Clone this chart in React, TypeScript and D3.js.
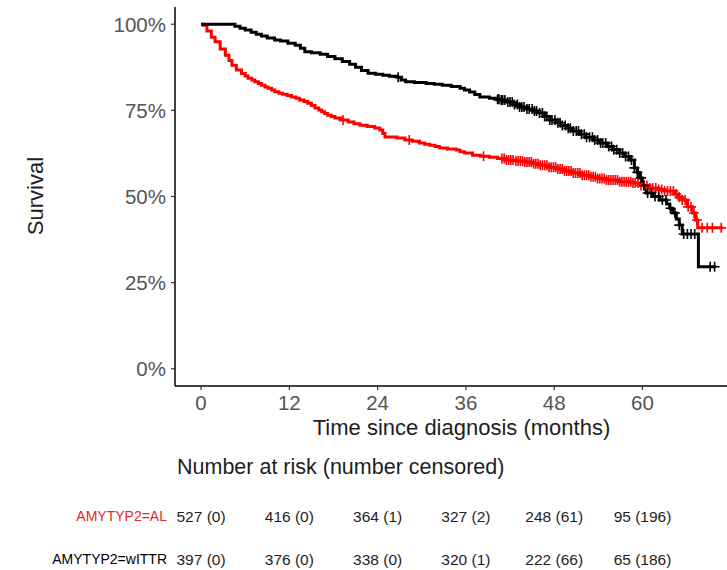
import React from "react";
import * as d3 from "d3";

// ---- Data ----
const alTimes = [0, 0.3, 0.8, 1.4, 1.9, 2.6, 3.3, 3.8, 4.2, 4.8, 5.5, 6.0, 6.4, 6.9, 7.3, 7.8, 8.2, 8.7, 9.1, 9.6, 10.0, 10.6, 11.1, 11.7, 12.3, 12.9, 13.4, 14.0, 14.5, 15.0, 15.5, 16.0, 16.4, 16.8, 17.2, 17.7, 18.2, 19.0, 20.0, 20.8, 21.6, 22.6, 23.6, 24.3, 24.7, 25.0, 26.6, 27.7, 28.7, 29.7, 30.4, 31.1, 31.8, 32.4, 33.5, 34.7, 35.2, 35.8, 36.9, 38.0, 39.2, 40.3, 41.5, 42.8, 44.0, 45.0, 46.0, 47.2, 48.3, 49.4, 50.5, 51.6, 52.8, 53.9, 55.1, 56.8, 58.6, 59.7, 60.9, 62.0, 63.0, 64.3, 64.9, 65.4, 66.1, 66.8, 67.2, 67.5, 70.9];
const alSurv = [1.0, 0.997, 0.98, 0.962, 0.949, 0.928, 0.91, 0.895, 0.881, 0.867, 0.857, 0.85, 0.843, 0.838, 0.833, 0.828, 0.823, 0.818, 0.814, 0.809, 0.804, 0.8, 0.797, 0.793, 0.789, 0.785, 0.78, 0.776, 0.771, 0.764, 0.757, 0.751, 0.746, 0.741, 0.736, 0.732, 0.728, 0.722, 0.716, 0.711, 0.707, 0.703, 0.699, 0.693, 0.683, 0.673, 0.67, 0.664, 0.66, 0.655, 0.652, 0.649, 0.645, 0.641, 0.638, 0.635, 0.63, 0.626, 0.62, 0.617, 0.614, 0.61, 0.606, 0.603, 0.6, 0.595, 0.591, 0.585, 0.58, 0.574, 0.568, 0.562, 0.557, 0.552, 0.548, 0.543, 0.539, 0.532, 0.525, 0.52, 0.516, 0.507, 0.498, 0.49, 0.47, 0.452, 0.432, 0.409, 0.409];
const alCensor = [19.3, 28.3, 38.4, 40.9, 41.2, 41.5, 41.8, 42.1, 42.4, 42.8, 43.1, 43.4, 43.7, 44.0, 44.3, 44.6, 44.9, 45.2, 45.5, 45.8, 46.1, 46.4, 46.7, 47.0, 47.3, 47.6, 47.9, 48.2, 48.5, 48.8, 49.1, 49.4, 49.7, 50.0, 50.3, 50.6, 50.9, 51.2, 51.5, 51.8, 52.1, 52.4, 52.7, 53.0, 53.3, 53.6, 53.9, 54.2, 54.5, 54.8, 55.1, 55.4, 55.7, 56.0, 56.3, 56.6, 56.9, 57.2, 57.5, 57.8, 58.1, 58.4, 58.7, 59.0, 59.4, 59.8, 60.2, 60.6, 61.0, 61.4, 61.8, 62.2, 62.6, 63.0, 63.4, 63.8, 64.2, 64.6, 65.0, 65.4, 65.8, 66.2, 66.6, 67.0, 67.4, 68.1, 68.8, 69.5, 70.7];

const ttrTimes = [0, 3.9, 4.6, 5.3, 6.0, 6.8, 7.5, 8.2, 9.0, 10.0, 10.8, 11.8, 12.8, 13.5, 14.1, 15.0, 16.2, 17.2, 18.2, 19.2, 20.2, 21.0, 21.8, 22.7, 23.7, 24.7, 25.6, 26.6, 27.2, 27.8, 29.0, 30.6, 31.7, 32.8, 34.0, 35.2, 35.8, 36.5, 37.2, 37.9, 39.2, 40.0, 40.6, 41.5, 42.4, 43.3, 44.2, 45.1, 46.0, 46.7, 47.4, 48.2, 49.0, 49.8, 50.5, 51.4, 52.3, 53.3, 54.2, 55.1, 56.0, 56.9, 57.6, 58.2, 58.9, 59.3, 59.6, 60.0, 60.5, 61.4, 62.3, 63.3, 63.7, 64.1, 64.6, 65.0, 65.4, 67.6, 70.0];
const ttrSurv = [1.0, 1.0, 0.994, 0.988, 0.983, 0.977, 0.971, 0.966, 0.96, 0.954, 0.951, 0.945, 0.939, 0.93, 0.92, 0.917, 0.913, 0.906, 0.9, 0.892, 0.884, 0.875, 0.866, 0.858, 0.855, 0.852, 0.849, 0.846, 0.838, 0.833, 0.831, 0.828, 0.826, 0.823, 0.819, 0.814, 0.809, 0.803, 0.796, 0.789, 0.785, 0.782, 0.78, 0.774, 0.767, 0.76, 0.754, 0.748, 0.742, 0.732, 0.722, 0.714, 0.706, 0.698, 0.69, 0.681, 0.672, 0.664, 0.655, 0.645, 0.636, 0.626, 0.616, 0.606, 0.583, 0.57, 0.554, 0.532, 0.51, 0.5, 0.49, 0.478, 0.466, 0.452, 0.435, 0.417, 0.391, 0.296, 0.296];
const ttrCensor = [26.8, 40.3, 40.5, 40.8, 41.0, 41.3, 41.7, 42.0, 42.3, 42.6, 43.0, 43.3, 43.6, 43.9, 44.3, 44.6, 45.0, 45.3, 45.6, 46.0, 46.4, 46.7, 47.0, 47.4, 47.7, 48.1, 48.5, 48.8, 49.1, 49.5, 49.9, 50.2, 50.6, 51.0, 51.3, 51.7, 52.1, 52.4, 52.8, 53.2, 53.5, 53.9, 54.3, 54.6, 55.0, 55.4, 55.8, 56.1, 56.5, 56.9, 57.3, 57.7, 58.1, 58.5, 58.9, 59.3, 59.8, 60.2, 60.7, 61.2, 61.7, 62.2, 62.7, 63.2, 63.8, 64.4, 65.0, 65.6, 66.1, 66.6, 67.1, 69.2, 69.8];

const xTicks = [0, 12, 24, 36, 48, 60];
const yTicks = [0, 0.25, 0.5, 0.75, 1];
const strataNames = ["AMYTYP2=AL", "AMYTYP2=wITTR"];
const strataColors = ["#ff0000", "#000000"];
const labelColors = ["#e0282e", "#000000"];
const riskAL = ["527 (0)", "416 (0)", "364 (1)", "327 (2)", "248 (61)", "95 (196)"];
const riskTTR = ["397 (0)", "376 (0)", "338 (0)", "320 (1)", "222 (66)", "65 (186)"];

const FONT = "'Liberation Sans', Arial, Helvetica, sans-serif";

export default function App() {
  const W = 727, H = 570;
  const x = d3.scaleLinear().domain([-3.54, 74.34]).range([175, 748]);
  const y = d3.scaleLinear().domain([-0.05, 1.05]).range([386, 7]);

  const stepLine = d3
    .line<[number, number]>()
    .x((d) => x(d[0]))
    .y((d) => y(d[1]))
    .curve(d3.curveStepAfter);

  const series = [
    { times: alTimes, surv: alSurv, censor: alCensor, color: strataColors[0] },
    { times: ttrTimes, surv: ttrSurv, censor: ttrCensor, color: strataColors[1] },
  ];

  const survAt = (times: number[], surv: number[], t: number) => {
    let s = surv[0];
    for (let i = 0; i < times.length; i++) {
      if (times[i] <= t) s = surv[i];
      else break;
    }
    return s;
  };

  const tickColor = "#555555";
  const titleColor = "#1e1e1e";
  const riskRows = [riskAL, riskTTR];

  return (
    <svg width={W} height={H} style={{ display: "block", position: "absolute", left: 0, top: 0 }} fontFamily={FONT}>
      <rect width={W} height={H} fill="#ffffff" />
      {series.map((s, i) => (
        <path
          key={"l" + i}
          d={stepLine(s.times.map((t, j) => [t, s.surv[j]] as [number, number])) || ""}
          fill="none"
          stroke={s.color}
          strokeWidth={3}
        />
      ))}
      {series.map((s, i) => (
        <g key={"c" + i} stroke={s.color} strokeWidth={1.6}>
          {s.censor.map((t, j) => {
            const cx = x(t);
            const cy = y(survAt(s.times, s.surv, t));
            return <path key={j} d={`M${cx - 5},${cy}H${cx + 5}M${cx},${cy - 5}V${cy + 5}`} />;
          })}
        </g>
      ))}
      <line x1={175} x2={175} y1={7} y2={386} stroke="#000" strokeWidth={1.5} />
      <line x1={175} x2={748} y1={386} y2={386} stroke="#000" strokeWidth={1.5} />
      {yTicks.map((t) => (
        <g key={"yt" + t}>
          <line x1={171} x2={175} y1={y(t)} y2={y(t)} stroke="#333" strokeWidth={1.2} />
          <text x={166} y={y(t) + 7.3} textAnchor="end" fontSize={20.5} fill={tickColor}>
            {d3.format(".0%")(t)}
          </text>
        </g>
      ))}
      {xTicks.map((t) => (
        <g key={"xt" + t}>
          <line x1={x(t)} x2={x(t)} y1={386} y2={390} stroke="#333" strokeWidth={1.2} />
          <text x={x(t)} y={410} textAnchor="middle" fontSize={20.5} fill={tickColor}>
            {t}
          </text>
        </g>
      ))}
      <text x={461.5} y={435} textAnchor="middle" fontSize={22} fill={titleColor}>
        Time since diagnosis (months)
      </text>
      <text transform="translate(43,196) rotate(-90)" textAnchor="middle" fontSize={22} fill={titleColor}>
        Survival
      </text>
      <text x={177} y={474} fontSize={21.5} fill={titleColor}>
        Number at risk (number censored)
      </text>
      {strataNames.map((n, i) => (
        <text key={"rn" + i} x={167} y={i === 0 ? 521 : 564} textAnchor="end" fontSize={14} fill={labelColors[i]}>
          {n}
        </text>
      ))}
      {riskRows.map((row, i) =>
        row.map((v, j) => (
          <text key={"rv" + i + "-" + j} x={x(xTicks[j])} y={i === 0 ? 522 : 565} textAnchor="middle" fontSize={15.5} fill={titleColor}>
            {v}
          </text>
        ))
      )}
    </svg>
  );
}
